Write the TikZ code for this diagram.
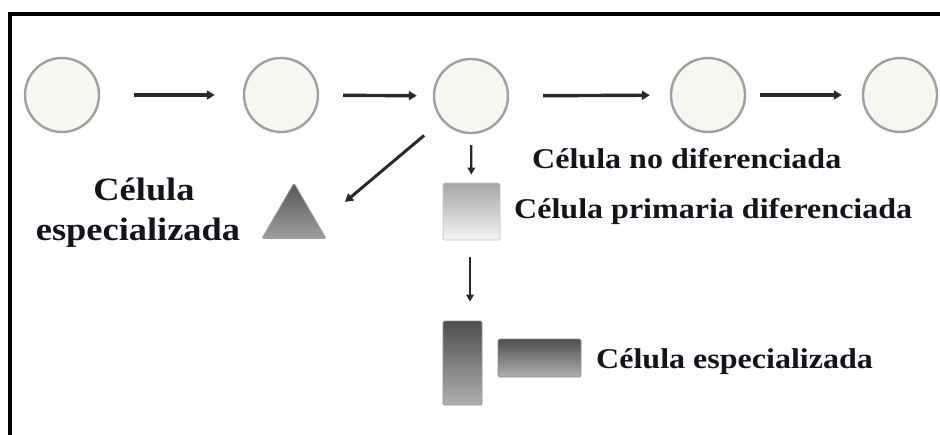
\documentclass[tikz,border=0pt]{standalone}
\usepackage{fontspec}
\setmainfont{Liberation Serif}[FakeStretch=1.12]
\usetikzlibrary{arrows.meta,shapes.geometric}
\definecolor{ink}{HTML}{14141E}
\definecolor{cellfill}{HTML}{F7F7F0}
\definecolor{cellrim}{HTML}{A0A0A0}
\definecolor{arrowgray}{HTML}{2A2A2A}
\definecolor{triTop}{HTML}{555555}
\definecolor{triBot}{HTML}{9E9E9E}
\definecolor{sqTop}{HTML}{A6A6A6}
\definecolor{sqBot}{HTML}{F4F4F4}
\definecolor{rodTop}{HTML}{4E4E4E}
\definecolor{rodBot}{HTML}{B0B0B0}
\tikzset{
  cell/.style={circle, draw=cellrim, line width=2.4pt, fill=cellfill, minimum size=74pt, inner sep=0pt},
  flow/.style={draw=arrowgray, line width=3.4pt, -{Triangle[length=8pt,width=9pt]}},
  thinflow/.style={draw=arrowgray, line width=2.2pt, -{Triangle[length=7pt,width=7.5pt]}},
  lbl/.style={text=ink, font=\bfseries\fontsize{28.6}{34}\selectfont, inner sep=0pt, anchor=base west},
  biglbl/.style={text=ink, font=\bfseries\fontsize{32.5}{38}\selectfont, inner sep=0pt, anchor=base},
  block/.style={line width=0.8pt, rounded corners=1.5pt, inner sep=0pt, shading=axis},
}
\begin{document}
\begin{tikzpicture}[x=1pt,y=-1pt]
  \useasboundingbox (0,0) rectangle (940,434);
  \fill[white] (0,0) rectangle (940,434);
  % outer frame (left and top edges)
  \draw[line width=4pt, line join=miter] (10,436) -- (10,14) -- (942,14);

  % undifferentiated cells
  \node[cell] (c1) at (62,95) {};
  \node[cell] (c2) at (281,95) {};
  \node[cell] (c3) at (471,96) {};
  \node[cell] (c4) at (708,95) {};
  \node[cell] (c5) at (900,95) {};

  \draw[flow, shorten <=34pt, shorten >=28pt] (c1) -- (c2);
  \draw[flow, shorten <=24pt, shorten >=16pt] (c2) -- (c3);
  \draw[flow, shorten <=34pt, shorten >=20pt] (c3) -- (c4);
  \draw[flow, shorten <=14pt, shorten >=20pt] (c4) -- (c5);

  % differentiated shapes
  \node[block, regular polygon, regular polygon sides=3, minimum size=74pt,
        top color=triTop, bottom color=triBot, draw=gray!75] (tri) at (294,220) {};
  \node[block, minimum width=57pt, minimum height=57pt,
        top color=sqTop, bottom color=sqBot, draw=gray!45] (sq) at (471.5,211.5) {};
  \node[block, minimum width=39pt, minimum height=84pt,
        top color=rodTop, bottom color=rodBot, draw=gray!85] (tall) at (462.5,363) {};
  \node[block, minimum width=83pt, minimum height=38pt,
        top color=rodTop, bottom color=rodBot, draw=gray!85] (wide) at (539.5,358) {};

  % differentiation arrows
  \coordinate (diagtip) at (345,202);
  \draw[flow, line width=3pt, shorten <=23pt] (c3) -- (diagtip);
  \draw[thinflow, shorten <=11pt, shorten >=8pt] (c3) -- (sq);
  \draw[thinflow, shorten <=17pt, shorten >=19pt] (sq.south -| 470,0) -- (tall.north -| 470,0);

  % labels
  \node[lbl] (tundiff) at (532,168) {Célula no diferenciada};
  \node[lbl] (tprim) at (514,218) {Célula primaria diferenciada};
  \node[lbl] (tspecR) at (596,368) {Célula especializada};
  \node[biglbl] (tspecLa) at (144,200) {Célula};
  \node[biglbl] (tspecLb) at (138,240) {especializada};
\end{tikzpicture}
\end{document}
